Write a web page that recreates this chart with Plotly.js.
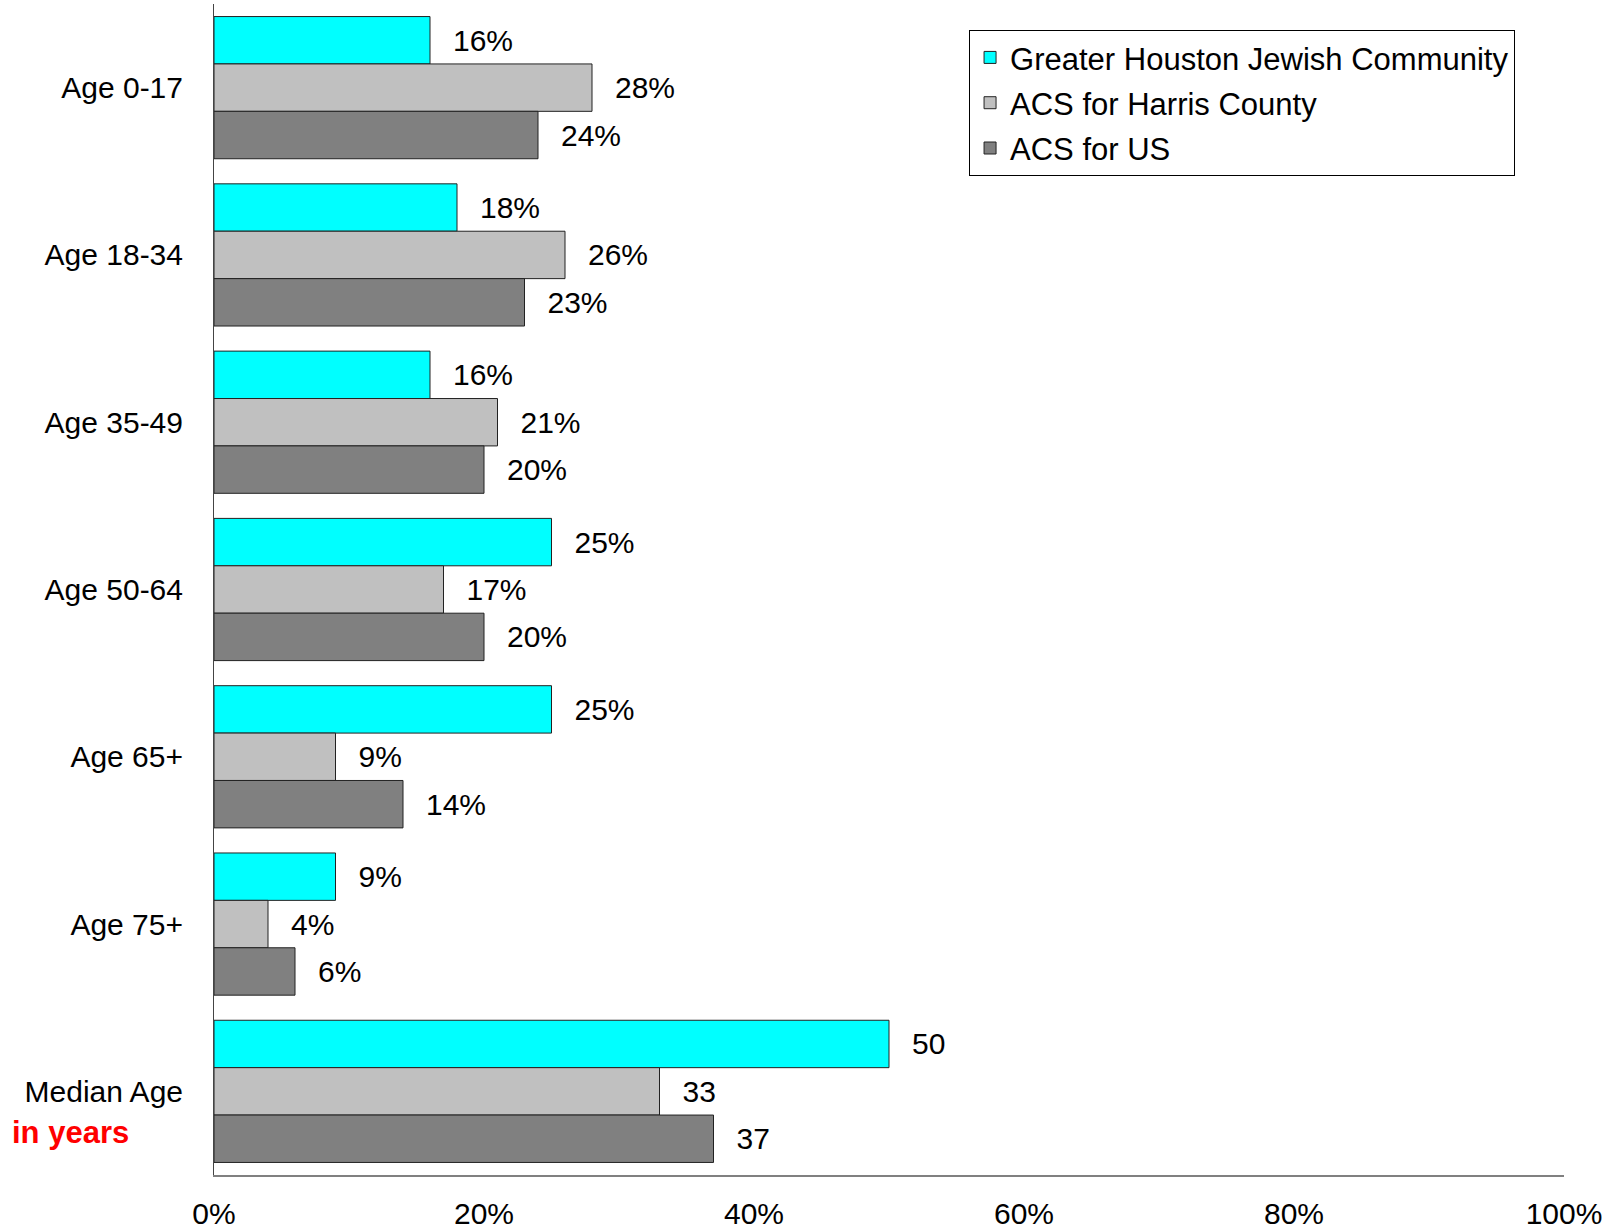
<!DOCTYPE html>
<html>
<head>
<meta charset="utf-8">
<script src="https://cdn.plot.ly/plotly-3.0.1.min.js"></script>
<style>html,body{margin:0;padding:0;background:#fff;}#chart{width:1614px;height:1229px;}</style>
</head>
<body>
<div id="chart"></div>
<script>
const categories = ["Age 0-17", "Age 18-34", "Age 35-49", "Age 50-64", "Age 65+", "Age 75+", "Median Age"];
const seriesNames = ["Greater Houston Jewish Community", "ACS for Harris County", "ACS for US"];
const jewishCommunity = [16, 18, 16, 25, 25, 9, 50];
const harrisCounty = [28, 26, 21, 17, 9, 4, 33];
const usTotal = [24, 23, 20, 20, 14, 6, 37];
const labelSuffix = ["%", "%", "%", "%", "%", "%", ""];
const xTickVals = [0, 20, 40, 60, 80, 100];
const xTickText = ["0%", "20%", "40%", "60%", "80%", "100%"];
const colors = ["#00FFFF", "#C0C0C0", "#808080"];

const FONT = "Liberation Sans, Arial, sans-serif";
const FS = 30;
const pad = "\u2002\u2006";

function mk(vals, i) {
  return {
    type: "bar",
    orientation: "h",
    name: seriesNames[i],
    legendgroup: "g" + i,
    y: categories,
    x: vals,
    text: vals.map((v, k) => pad + v + labelSuffix[k]),
    textposition: "outside",
    constraintext: "none",
    cliponaxis: false,
    textfont: {family: FONT, size: FS, color: "#000"},
    marker: {color: colors[i], line: {color: "#222", width: 1}},
    hoverinfo: "skip"
  };
}

const data = [mk(jewishCommunity, 0), mk(harrisCounty, 1), mk(usTotal, 2)];

const layout = {
  width: 1614, height: 1229,
  margin: {l: 214, r: 50, t: 4, b: 54, pad: 0},
  paper_bgcolor: "#fff", plot_bgcolor: "#fff",
  barmode: "group", bargap: 0.15, bargroupgap: 0,
  showlegend: true,
  font: {family: FONT, size: FS, color: "#000"},
  xaxis: {
    range: [0, 100], tickvals: xTickVals, ticktext: xTickText,
    showgrid: false, zeroline: false, showline: true, linecolor: "#808080", linewidth: 2,
    ticks: "", ticklabelstandoff: 11,
    tickfont: {family: FONT, size: FS, color: "#000"}
  },
  yaxis: {
    autorange: "reversed", type: "category",
    showgrid: false, zeroline: false, showline: true, linecolor: "#444", linewidth: 1,
    ticks: "", ticklabelstandoff: 24,
    tickfont: {family: FONT, size: FS, color: "#000"}
  },
  legend: {
    x: 0.5593, y: 0.978, xanchor: "left", yanchor: "top",
    bgcolor: "#fff", bordercolor: "#000", borderwidth: 1,
    traceorder: "grouped", tracegroupgap: 2,
    font: {family: FONT, size: 31, color: "#000"},
    itemclick: false, itemdoubleclick: false
  },
  annotations: [{
    xref: "paper", yref: "paper", x: -0.1508, y: 0.0367,
    xanchor: "left", yanchor: "middle", showarrow: false,
    text: "<b>in years</b>", font: {family: FONT, size: 31, color: "#FF0000"}
  }]
};

Plotly.newPlot("chart", data, layout, {displayModeBar: false, staticPlot: true});
</script>
</body>
</html>
